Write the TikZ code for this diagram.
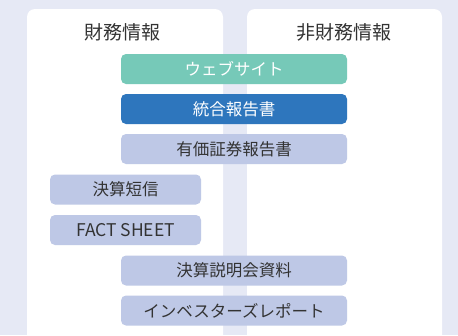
\documentclass[tikz,border=0pt]{standalone}
\usepackage{fontspec}
\setmainfont{Noto Sans CJK JP}
\usepackage{xcolor}
\usetikzlibrary{positioning}
\definecolor{pagebg}{HTML}{E6E9F5}
\definecolor{webteal}{HTML}{76C9B8}
\definecolor{reportblue}{HTML}{2E76BD}
\definecolor{docblue}{HTML}{BEC8E6}
\definecolor{textgray}{HTML}{333333}

\begin{document}
\begin{tikzpicture}[x=1pt, y=-1pt,
    panel/.style={fill=white, rounded corners=8pt},
    head/.style={text=textgray, font=\fontsize{19}{20}\selectfont},
    bar/.style={fill=docblue, text=textgray, rounded corners=5pt, inner sep=0pt,
        minimum height=30pt, font=\fontsize{16.5}{17}\selectfont},
    widebar/.style={bar, minimum width=226pt},
    shortbar/.style={bar, minimum width=151pt}]
    % Background
    \useasboundingbox (0,0) rectangle (458,335);
    \clip (0,0) rectangle (458,335);
    \fill[pagebg] (0,0) rectangle (458,335);

    % Panels
    \fill[panel] (27,9) rectangle (223,350);
    \fill[panel] (247,9) rectangle (442,350);

    % Headers
    \node[head] (fin) at (122,32) {財務情報};
    \node[head] (nonfin) at (344,32) {非財務情報};

    % Bars
    \node[widebar, fill=webteal, text=white] (web) at (234,69) {ウェブサイト};
    \node[widebar, fill=reportblue, text=white] (ir) at (234,109) {統合報告書};
    \node[widebar] (yuho) at (234,149) {有価証券報告書};
    \node[shortbar] (tanshin) at (125.5,189.5) {決算短信};
    \node[shortbar, font=\fontsize{17.5}{18}\selectfont] (fact) at (125.5,230) {FACT SHEET};
    \node[widebar] (setsumei) at (234,270.5) {決算説明会資料};
    \node[widebar] (investor) at (234,310.5) {インベスターズレポート};
\end{tikzpicture}
\end{document}
